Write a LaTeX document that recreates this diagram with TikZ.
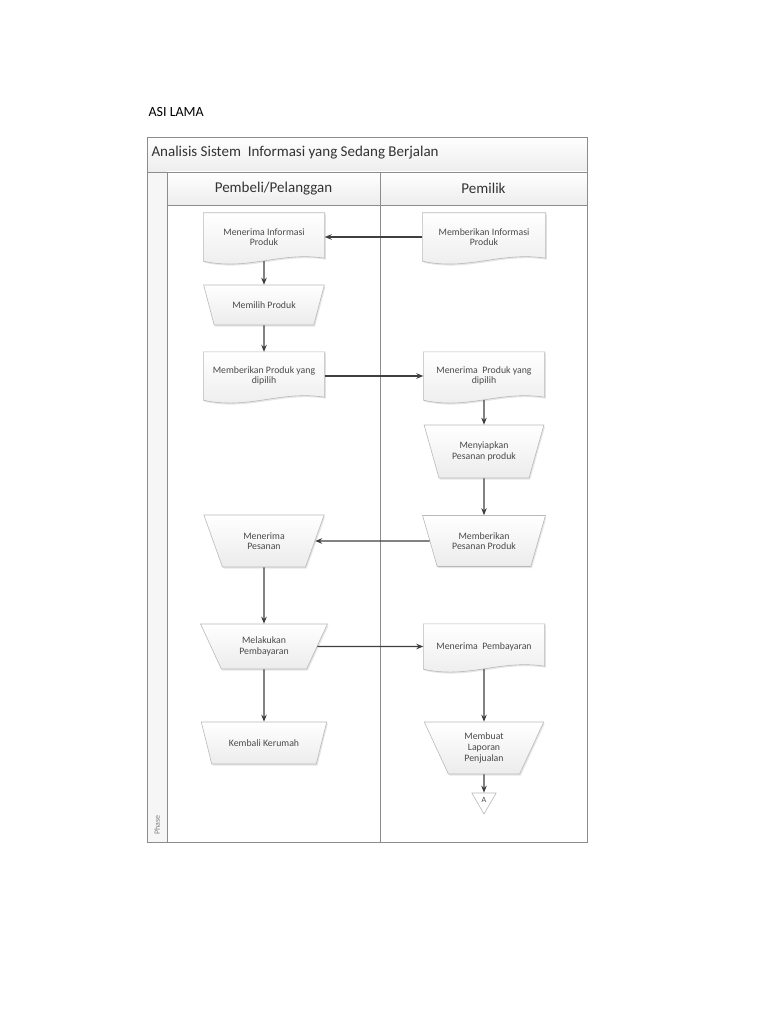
\documentclass[tikz,border=0pt]{standalone}
\usepackage{fontspec}
\setmainfont{Carlito}
\usetikzlibrary{shapes.geometric,arrows.meta,backgrounds,shadows}

\definecolor{framegray}{HTML}{8C8C8C}
\definecolor{linegray}{HTML}{3F3F3F}
\definecolor{textgray}{HTML}{4A4A4A}

\tikzset{
  lane/.style={draw=framegray, line width=0.9pt},
  bar/.style={lane, top color=white, bottom color=gray!14},
  boxshadow/.style={drop shadow={opacity=0.2, shadow xshift=1.2pt, shadow yshift=-1.5pt}},
  boxfont/.style={font=\fontsize{9.8}{10.6}\selectfont, text=textgray},
  docbox/.style={draw=none, minimum width=121pt, minimum height=48pt, align=center, boxfont},
  docline/.style={draw=gray!55, line width=0.6pt, top color=white, bottom color=gray!15, boxshadow},
  trapbox/.style={trapezium, shape border rotate=180, trapezium stretches=true,
    trapezium angle=66, draw=gray!55, line width=0.6pt, top color=white, bottom color=gray!15,
    minimum width=121pt, inner xsep=1pt, align=center, boxfont, boxshadow},
  offpage/.style={regular polygon, regular polygon sides=3, shape border rotate=180,
    minimum size=28pt, inner sep=0pt, draw=gray!55, line width=0.6pt, fill=white,
    font=\fontsize{8}{9}\selectfont, text=textgray},
  flow/.style={draw=linegray, line width=1.1pt, -{Stealth[length=7pt,width=5.5pt]}}
}

\begin{document}
\begin{tikzpicture}[x=1pt,y=-1pt]
\useasboundingbox (0,0) rectangle (768,1024);

\node (caption) [anchor=west, font=\fontsize{14}{16}\selectfont] at (145,112) {ASI LAMA};

% pool and lanes
\draw[bar] (147,137) rectangle (587,172);
\draw[bar] (167,172) rectangle (380,205);
\draw[bar] (380,172) rectangle (587,205);
\draw[lane, fill=gray!7] (147,172) rectangle (167,842);
\draw[lane] (167,205) rectangle (380,842);
\draw[lane] (380,205) rectangle (587,842);

\node (title) [anchor=west, font=\fontsize{15}{17}\selectfont, text=black!80] at (148,153)
  {Analisis Sistem~ Informasi yang Sedang Berjalan};
\node (buyer) [font=\fontsize{15}{17}\selectfont, text=black!80] at (273.5,188.5) {Pembeli/Pelanggan};
\node (owner) [font=\fontsize{15}{17}\selectfont, text=black!80] at (483.5,188.5) {Pemilik};
\node (phase) [rotate=90, font=\fontsize{8}{9}\selectfont, text=gray] at (157,825) {Phase};

% Pembeli/Pelanggan
\node (d1) [docbox] at (264,237) {Menerima Informasi\\Produk};
\node (t2) [trapbox, minimum height=40pt, trapezium angle=63] at (264,305) {Memilih Produk};
\node (d3) [docbox] at (264,376) {Memberikan Produk yang\\dipilih};
\node (t8) [trapbox, minimum height=52pt, trapezium angle=68] at (264,541) {Menerima\\Pesanan};
\node (t9) [trapbox, minimum height=45pt, minimum width=127pt, trapezium angle=64] at (264,646.5) {Melakukan\\Pembayaran};
\node (t10) [trapbox, minimum height=42pt, minimum width=126pt, trapezium angle=62] at (264,743) {Kembali Kerumah};

% Pemilik
\node (d4) [docbox, minimum width=123pt] at (484,237) {Memberikan Informasi\\Produk};
\node (d5) [docbox] at (484,376) {Menerima~ Produk yang\\dipilih};
\node (t6) [trapbox, minimum height=53pt, minimum width=120pt, trapezium angle=67] at (484,451.5) {Menyiapkan\\Pesanan produk};
\node (t7) [trapbox, minimum height=51pt, minimum width=124pt, trapezium angle=67] at (484,541) {Memberikan\\Pesanan Produk};
\node (d11) [docbox, minimum height=45pt] at (484,646.5) {Menerima~ Pembayaran};
\node (t12) [trapbox, minimum height=52pt, minimum width=120pt, trapezium angle=69] at (484,748) {Membuat\\Laporan\\Penjualan};
\node (c13) [offpage] at (484,800) {A};

% document shapes with wavy bottom
\begin{scope}[on background layer]
\foreach \d in {d1,d3,d4,d5,d11}
  \draw[docline] (\d.north west) -- (\d.north east) -- ([yshift=3pt]\d.south east)
    .. controls ([xshift=-45pt,yshift=10pt]\d.south east) and ([xshift=45pt,yshift=-10pt]\d.south west)
    .. (\d.south west) -- cycle;
\end{scope}

% flow
\draw[flow] (d1.south) -- (t2.north);
\draw[flow] (t2.south) -- (d3.north);
\draw[flow] (d4.west) -- (d1.east);
\draw[flow] (d3.east) -- (d5.west);
\draw[flow] (d5.south) -- (t6.north);
\draw[flow] (t6.south) -- (t7.north);
\draw[flow] (t7.west) -- (t8.east);
\draw[flow] (t8.south) -- (t9.north);
\draw[flow] (t9.south) -- (t10.north);
\draw[flow] (t9.east) -- (d11.west);
\draw[flow] (d11.south) -- (t12.north);
\draw[flow] (t12.south) -- (c13.north);
\end{tikzpicture}
\end{document}
